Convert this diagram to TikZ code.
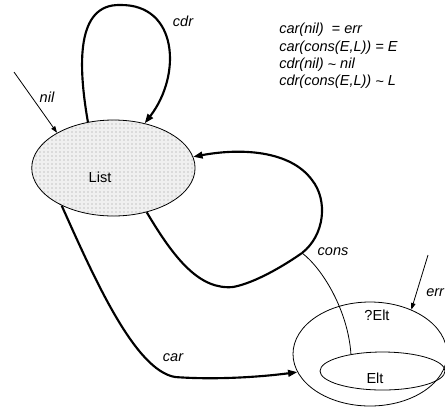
\documentclass[tikz,border=0pt]{standalone}
\usepackage{fontspec}
\setmainfont{Liberation Sans}
\usetikzlibrary{shapes.geometric,arrows.meta,patterns}

\newcommand{\simto}{\raisebox{-0.12ex}{\textasciitilde}}

\tikzset{
    state/.style={ellipse, draw, line width=0.6pt, inner sep=0pt},
    bigarc/.style={line width=1.6pt, -{Triangle[length=7pt,width=5pt]}},
    thinarc/.style={line width=0.6pt, -{Triangle[length=5pt,width=3.4pt]}},
    txt/.style={inner sep=0.75pt, font=\fontsize{10.9}{13}\selectfont},
    itxt/.style={inner sep=0.75pt, font=\fontsize{10.9}{13}\selectfont\itshape},
}

\begin{document}
\begin{tikzpicture}[x=0.75pt,y=0.75pt,yscale=-1,xscale=1]
    \useasboundingbox (0,0) rectangle (445,408);

    %Shape: Ellipse [id:list]
    \node [state, minimum width=122.5pt, minimum height=72pt, preaction={fill=gray!12}, pattern=dots, pattern color=gray!80] (list) at (113.4,168) {};
    %Shape: Ellipse [id:elt]
    \node [state, minimum width=115.5pt, minimum height=78pt] (elt) at (370,354) {};
    %Shape: Ellipse [id:inelt]
    \node [state, minimum width=93.75pt, minimum height=28.5pt] (inelt) at (382.5,371) {};

    \coordinate (nilstart) at (14,72);
    \coordinate (errstart) at (428,255);
    \coordinate (split) at (302,253);

    %Curve Lines [id:cdr]
    \draw [bigarc] (list.119) .. controls (78,65) and (76,4) .. (120,5) .. controls (178,4) and (182,75) .. (list.55);
    %Curve Lines [id:cons]
    \draw [line width=1.6pt] (list.-53) .. controls (175,260) and (200,290) .. (233,287) .. controls (255,283) and (285,265) .. (split);
    \draw [bigarc] (split) .. controls (325,235) and (328,200) .. (312,180) .. controls (290,150) and (240,148) .. (list.8);
    %Curve Lines [id:consbranch]
    \draw [line width=0.6pt] (split) .. controls (322,268) and (348,310) .. (inelt.152);
    %Curve Lines [id:car]
    \draw [bigarc] (list.216) .. controls (95,280) and (135,370) .. (175,377) .. controls (215,380) and (260,377) .. (elt.194);
    %Straight Lines [id:nil]
    \draw [thinarc] (nilstart) -- (list.148);
    %Straight Lines [id:err]
    \draw [thinarc] (errstart) -- (elt.47.5);

    % Text Node
    \node [txt] (listtxt) at (100,177) {List};
    % Text Node
    \node [txt] (elttxt) at (377,315) {?Elt};
    % Text Node
    \node [txt] (inelttxt) at (375,378) {Elt};
    % Text Node
    \node [itxt] (cdrtxt) at (183,21) {cdr};
    % Text Node
    \node [itxt] (niltxt) at (47,97) {nil};
    % Text Node
    \node [itxt] (constxt) at (333,252) {cons};
    % Text Node
    \node [itxt] (cartxt) at (173,358) {car};
    % Text Node
    \node [itxt, anchor=west] (errtxt) at (425,293) {err};
    % Text Node
    \node [itxt, anchor=west, align=left] (eqns) at (278,56) {car(nil)\ \ = err\\car(cons(E,L)) = E\\cdr(nil) \simto{} nil\\cdr(cons(E,L)) \simto{} L};

\end{tikzpicture}
\end{document}
